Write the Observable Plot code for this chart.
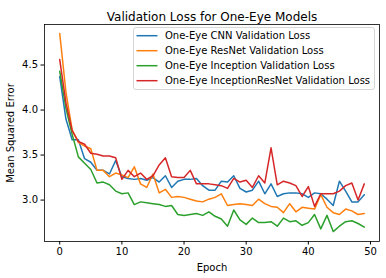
<!DOCTYPE html>
<html>
<head>
<meta charset="utf-8">
<script src="https://cdn.jsdelivr.net/npm/d3@7"></script>
<script src="https://cdn.jsdelivr.net/npm/@observablehq/plot@0.6"></script>
<style>
  html, body { margin: 0; padding: 0; background: #fff; }
  svg { font-family: "DejaVu Sans", sans-serif; }
</style>
</head>
<body>
<div id="chart"></div>
<script>
const epochs = d3.range(50);
const seriesNames = [
  "One-Eye CNN Validation Loss",
  "One-Eye ResNet Validation Loss",
  "One-Eye Inception Validation Loss",
  "One-Eye InceptionResNet Validation Loss"
];
const seriesColors = ["#1f77b4", "#ff7f0e", "#2ca02c", "#d62728"];

const cnnLoss = [4.37, 3.90, 3.67, 3.67, 3.46, 3.42, 3.33, 3.33, 3.29, 3.44,
  3.26, 3.24, 3.23, 3.24, 3.22, 3.25, 3.20, 3.27, 3.14, 3.21,
  3.23, 3.23, 3.24, 3.16, 3.11, 3.11, 3.21, 3.20, 3.27, 3.13,
  3.09, 3.11, 3.21, 3.07, 3.18, 3.04, 3.07, 3.08, 3.08, 3.07,
  3.03, 3.08, 3.07, 3.01, 2.94, 3.21, 3.10, 2.98, 2.98, 3.06];
const resnetLoss = [4.85, 4.20, 3.78, 3.64, 3.60, 3.57, 3.33, 3.33, 3.26, 3.30,
  3.28, 3.25, 3.37, 3.18, 3.14, 3.29, 3.08, 3.12, 3.03, 3.04,
  3.03, 3.01, 2.99, 2.98, 3.01, 3.03, 3.07, 2.94, 2.95, 2.96,
  2.95, 2.94, 3.01, 2.96, 2.93, 2.92, 2.86, 2.96, 2.87, 2.92,
  2.91, 2.90, 3.06, 2.92, 2.86, 2.84, 2.90, 2.88, 2.84, 2.85];
const inceptionLoss = [4.43, 4.02, 3.73, 3.48, 3.41, 3.34, 3.19, 3.20, 3.17, 3.10,
  3.07, 3.08, 2.95, 2.98, 2.97, 2.96, 2.95, 2.93, 2.94, 2.84,
  2.83, 2.84, 2.85, 2.83, 2.87, 2.82, 2.79, 2.71, 2.89, 2.78,
  2.73, 2.80, 2.75, 2.75, 2.76, 2.71, 2.80, 2.76, 2.77, 2.72,
  2.75, 2.84, 2.68, 2.83, 2.65, 2.71, 2.76, 2.77, 2.74, 2.70];
const inceptionResnetLoss = [4.56, 4.08, 3.77, 3.65, 3.62, 3.52, 3.51, 3.49, 3.49, 3.47,
  3.23, 3.33, 3.26, 3.30, 3.23, 3.27, 3.39, 3.47, 3.26, 3.25,
  3.25, 3.33, 3.18, 3.18, 3.18, 3.17, 3.16, 3.13, 3.24, 3.20,
  3.22, 3.14, 3.27, 3.19, 3.58, 3.17, 3.21, 3.19, 3.16, 3.04,
  3.15, 2.93, 3.07, 3.07, 3.07, 3.10, 3.16, 3.19, 3.00, 3.18];

const xTicks = [0, 10, 20, 30, 40, 50];
const yTicks = [3.0, 3.5, 4.0, 4.5];
const titleText = "Validation Loss for One-Eye Models";
const xLabel = "Epoch";
const yLabel = "Mean Squared Error";

const allSeries = [cnnLoss, resnetLoss, inceptionLoss, inceptionResnetLoss];
const rows = [];
allSeries.forEach((vals, s) => {
  vals.forEach((v, i) => rows.push({epoch: epochs[i], loss: v, series: seriesNames[s]}));
});

const W = 386, H = 278;
const chart = Plot.plot({
  width: W,
  height: H,
  marginLeft: 44,
  marginRight: 7,
  marginTop: 24,
  marginBottom: 37,
  style: {fontFamily: "DejaVu Sans, sans-serif", fontSize: "10px", background: "white", color: "black"},
  x: {domain: [-2.45, 51.45]},
  y: {domain: [2.54, 4.95]},
  color: {domain: seriesNames, range: seriesColors},
  marks: [
    Plot.line(rows, {x: "epoch", y: "loss", z: "series", stroke: "series", strokeWidth: 1.5, curve: "linear"}),
    Plot.frame({stroke: "black", strokeWidth: 0.8}),
    Plot.axisX({ticks: xTicks, tickSize: 3.5, tickPadding: 3, tickFormat: d3.format("d"), fontSize: 10,
      label: xLabel, labelAnchor: "center", labelArrow: "none", labelOffset: 29}),
    Plot.axisY({ticks: yTicks, tickSize: 3.5, tickPadding: 3, tickFormat: d3.format(".1f"), fontSize: 10,
      label: yLabel, labelAnchor: "center", labelArrow: "none", labelOffset: 38}),
    Plot.text([titleText], {frameAnchor: "top", dy: -12, fontSize: 12, text: d => d})
  ]
});
document.getElementById("chart").appendChild(chart);

// legend, matplotlib style (upper right)
const svg = d3.select(chart);
const lg = svg.append("g").attr("font-family", "DejaVu Sans, sans-serif").attr("font-size", 10)
  .attr("text-anchor", "start");
lg.append("rect").attr("x", 133.5).attr("y", 27.5).attr("width", 241).attr("height", 62)
  .attr("rx", 2.5).attr("fill", "white").attr("fill-opacity", 0.8).attr("stroke", "#cccccc").attr("stroke-width", 0.8);
seriesNames.forEach((name, i) => {
  const y = 35.7 + i * 15;
  lg.append("line").attr("x1", 136.5).attr("x2", 157.5).attr("y1", y).attr("y2", y)
    .attr("stroke", seriesColors[i]).attr("stroke-width", 1.5);
  lg.append("text").attr("x", 165).attr("y", y).attr("dy", "0.35em").attr("fill", "black")
    .attr("text-anchor", "start").text(name);
});
</script>
</body>
</html>
